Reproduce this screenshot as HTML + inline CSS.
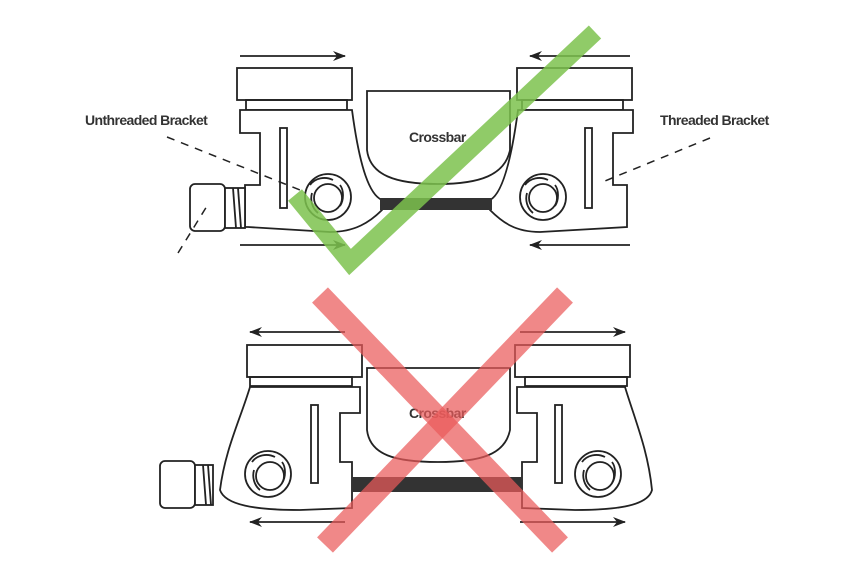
<!DOCTYPE html>
<html><head><meta charset="utf-8"><style>
html,body{margin:0;padding:0;background:#fff;width:860px;height:570px;overflow:hidden}
text{font-family:"Liberation Sans",sans-serif;font-weight:bold;fill:#333;letter-spacing:-0.6px}
</style></head><body>
<svg width="860" height="570" viewBox="0 0 860 570" xmlns="http://www.w3.org/2000/svg">
<defs>
<marker id="ah" markerWidth="13" markerHeight="10" refX="12" refY="5" orient="auto" markerUnits="userSpaceOnUse">
<path d="M0,0 L13,5 L0,10 L4,5 Z" fill="#222"/></marker>
</defs>
<g fill="none" stroke="#222" stroke-width="1.8">
<line x1="240" y1="56" x2="345" y2="56" marker-end="url(#ah)"/>
<line x1="630" y1="56" x2="530" y2="56" marker-end="url(#ah)"/>
<line x1="240" y1="245" x2="345" y2="245" marker-end="url(#ah)"/>
<line x1="630" y1="245" x2="530" y2="245" marker-end="url(#ah)"/>
<rect x="237" y="68" width="115" height="32"/>
<rect x="246" y="100" width="101" height="10"/>
<rect x="517" y="68" width="115" height="32"/>
<rect x="522" y="100" width="101" height="10"/>
<path d="M240,110 L352,110 C360,170 370,195 382,200 L382,210 C370,222 355,232 330,232 L248,227 L245,227 L245,185 L260,185 L260,133 L240,133 Z" fill="#fff"/>
<path d="M633,110 L518,110 C510,170 500,195 490,200 L490,210 C502,222 515,232 540,232 L627,227 L627,185 L613,185 L613,133 L633,133 Z" fill="#fff"/>
<rect x="280" y="128" width="7" height="80"/>
<rect x="585" y="128" width="7" height="80"/>
<path d="M367,91 L510,91 L510,150 C505,175 480,184 438,184 C395,184 370,175 367,150 Z" fill="#fff"/>
<rect x="380" y="198" width="112" height="12" fill="#333" stroke="none"/>
<circle cx="328" cy="197" r="23"/><circle cx="328" cy="198" r="14"/>
<path d="M310,185 C315,178 325,176 333,180 M340,185 C344,190 344,200 340,206 M318,213 C312,208 310,200 312,193"/>
<circle cx="543" cy="197" r="23"/><circle cx="543" cy="198" r="14"/>
<path d="M525,185 C530,178 540,176 548,180 M555,185 C559,190 559,200 555,206 M533,213 C527,208 525,200 527,193"/>
<rect x="190" y="184" width="35" height="47" rx="5" fill="#fff"/>
<rect x="225" y="188" width="20" height="40" fill="#fff"/>
<line x1="233" y1="188" x2="236" y2="228"/><line x1="238" y1="188" x2="241" y2="228"/>
<path d="M167,137 L300,190" stroke-dasharray="8,7" stroke-width="1.5"/>
<path d="M178,253 L207,206" stroke-dasharray="8,7" stroke-width="1.5"/>
<path d="M710,138 L600,183" stroke-dasharray="8,7" stroke-width="1.5"/>

<line x1="345" y1="332" x2="250" y2="332" marker-end="url(#ah)"/>
<line x1="520" y1="332" x2="625" y2="332" marker-end="url(#ah)"/>
<line x1="345" y1="522" x2="250" y2="522" marker-end="url(#ah)"/>
<line x1="520" y1="522" x2="625" y2="522" marker-end="url(#ah)"/>
<rect x="247" y="345" width="115" height="32"/>
<rect x="250" y="377" width="102" height="9"/>
<rect x="515" y="345" width="115" height="32"/>
<rect x="525" y="377" width="102" height="9"/>
<path d="M360,387 L360,413 L340,413 L340,462 L352,462 L352,508 L300,510 C255,510 225,505 220,490 C225,450 240,420 250,387 Z" fill="#fff"/>
<path d="M517,387 L517,413 L537,413 L537,462 L522,462 L522,508 L575,510 C620,510 648,505 652,490 C648,450 635,420 625,387 Z" fill="#fff"/>
<rect x="311" y="405" width="7" height="78"/>
<rect x="555" y="405" width="7" height="78"/>
<path d="M367,368 L510,368 L510,430 C505,455 480,462 438,462 C395,462 370,455 367,430 Z" fill="#fff"/>
<rect x="352" y="477" width="170" height="15" fill="#333" stroke="none"/>
<circle cx="268" cy="474" r="23"/><circle cx="270" cy="476" r="14"/>
<path d="M252,462 C257,455 267,453 275,457 M282,462 C286,467 286,477 282,483 M260,490 C254,485 252,477 254,470"/>
<circle cx="598" cy="474" r="23"/><circle cx="600" cy="476" r="14"/>
<path d="M582,462 C587,455 597,453 605,457 M612,462 C616,467 616,477 612,483 M590,490 C584,485 582,477 584,470"/>
<rect x="160" y="461" width="35" height="47" rx="5" fill="#fff"/>
<rect x="195" y="465" width="18" height="40" fill="#fff"/>
<line x1="203" y1="465" x2="206" y2="505"/><line x1="208" y1="465" x2="211" y2="505"/>
</g>
<text x="85" y="125" font-size="14">Unthreaded Bracket</text>
<text x="660" y="125" font-size="14">Threaded Bracket</text>
<text x="409" y="142" font-size="14">Crossbar</text>
<text x="409" y="418" font-size="14">Crossbar</text>
<polyline points="295,195 350,262 595,32" fill="none" stroke="#7cc24e" stroke-opacity="0.85" stroke-width="18"/>
<line x1="320" y1="295" x2="560" y2="545" stroke="#ea5a5a" stroke-opacity="0.72" stroke-width="22"/>
<line x1="565" y1="295" x2="325" y2="545" stroke="#ea5a5a" stroke-opacity="0.72" stroke-width="22"/>
</svg>
</body></html>
